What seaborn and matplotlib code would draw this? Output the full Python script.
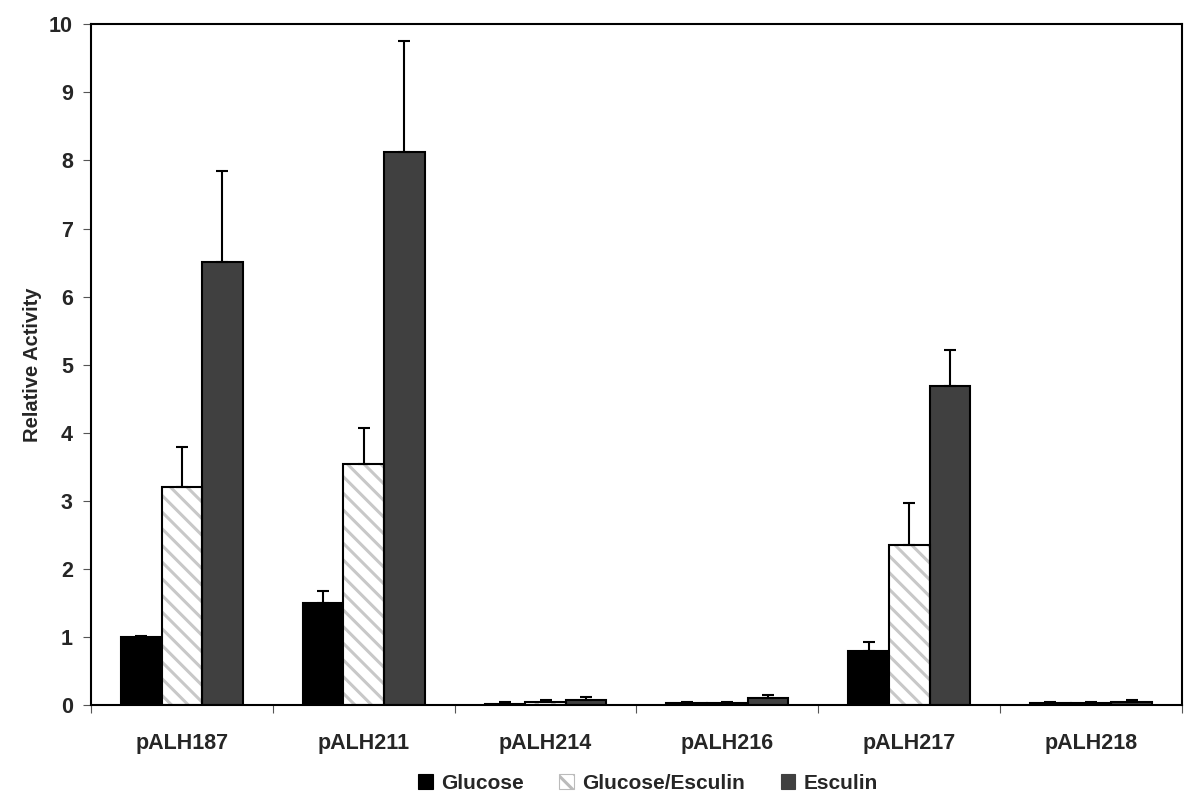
import matplotlib
matplotlib.use("Agg")
import matplotlib.pyplot as plt
import seaborn as sns
import pandas as pd
import numpy as np
from matplotlib.patches import Patch, Rectangle

plasmids = ["pALH187", "pALH211", "pALH214", "pALH216", "pALH217", "pALH218"]
conditions = ["Glucose", "Glucose/Esculin", "Esculin"]
glucose = [1.00, 1.50, 0.02, 0.03, 0.79, 0.03]
glucose_err = [0.02, 0.18, 0.03, 0.01, 0.14, 0.01]
gluesc = [3.21, 3.54, 0.05, 0.03, 2.35, 0.03]
gluesc_err = [0.58, 0.53, 0.03, 0.01, 0.62, 0.01]
esculin = [6.51, 8.12, 0.07, 0.10, 4.68, 0.04]
esculin_err = [1.34, 1.63, 0.05, 0.05, 0.54, 0.04]

sns.set_theme(style="white")
plt.rcParams['font.family'] = ['Liberation Sans', 'DejaVu Sans']
plt.rcParams['hatch.linewidth'] = 2.2

rows = []
for i, p in enumerate(plasmids):
    rows.append((p, conditions[0], glucose[i], glucose_err[i]))
    rows.append((p, conditions[1], gluesc[i], gluesc_err[i]))
    rows.append((p, conditions[2], esculin[i], esculin_err[i]))
df = pd.DataFrame(rows, columns=["plasmid", "condition", "value", "err"])

colors = {"Glucose": "#000000", "Glucose/Esculin": "#ffffff", "Esculin": "#404040"}
hatch_gray = "#c8c8c8"
HATCH = "\\\\"

fig = plt.figure(figsize=(12, 8.1), dpi=100)
ax = fig.add_axes([0.0758, 0.1296, 0.9092, 0.8404])

sns.barplot(data=df, x="plasmid", y="value", hue="condition", order=plasmids,
            hue_order=conditions, palette=colors, width=0.67, edgecolor="black",
            linewidth=1.5, errorbar=None, ax=ax, saturation=1, legend=False)

for k, cond in enumerate(conditions):
    sub = df[df.condition == cond].set_index("plasmid").loc[plasmids]
    patches = ax.containers[k].patches
    xs = [pt.get_x() + pt.get_width() / 2 for pt in patches]
    if cond == "Glucose/Esculin":
        for pt in patches:
            pt.set_hatch(HATCH)
            pt.set_edgecolor(hatch_gray)
            pt.set_linewidth(0)
            outline = Rectangle(pt.get_xy(), pt.get_width(), pt.get_height(),
                                fill=False, edgecolor="black", linewidth=1.5, zorder=pt.get_zorder() + 0.1)
            ax.add_patch(outline)
    ax.errorbar(xs, sub["value"].values,
                yerr=[np.zeros(len(xs)), sub["err"].values],
                fmt="none", ecolor="black", elinewidth=1.5, capsize=4.5, capthick=1.5, zorder=1)

ax.set_ylim(0, 10)
ax.set_xlim(-0.5, len(plasmids) - 0.5)
ax.set_yticks(range(0, 11))
ax.set_yticklabels([str(i) for i in range(0, 11)], fontsize=15.5, fontweight="bold")
ax.set_xticks(range(len(plasmids)))
ax.set_xticklabels(plasmids, fontsize=15.5, fontweight="bold")
ax.set_xticks(np.arange(-0.5, len(plasmids), 1.0), minor=True)
ax.tick_params(axis="x", which="major", length=0, pad=20)
ax.tick_params(axis="x", which="minor", length=6, width=0.8, direction="out", bottom=True, color="#555555")
ax.tick_params(axis="y", length=6, width=0.8, direction="out", left=True, color="#555555", pad=7)
ax.set_xlabel("")
ax.set_ylabel("Relative Activity", fontsize=14.5, fontweight="bold", labelpad=5)
for s in ax.spines.values():
    s.set_visible(True)
    s.set_color("black")
    s.set_linewidth(1.5)

handles = [Patch(facecolor=colors[c], edgecolor="#888888" if c == "Glucose/Esculin" else colors[c],
                 hatch=HATCH if c == "Glucose/Esculin" else None, linewidth=0.8) for c in conditions]
leg = fig.legend(handles, conditions, loc="center", bbox_to_anchor=(0.54, 0.033), ncol=3,
                 frameon=False, prop={"size": 15, "weight": "bold"}, handlelength=0.7,
                 handleheight=0.7, handletextpad=0.4, columnspacing=1.7)
for h in leg.legend_handles:
    if h.get_hatch():
        h.set_edgecolor("#bbbbbb")

fig.savefig("out.png", dpi=100)
